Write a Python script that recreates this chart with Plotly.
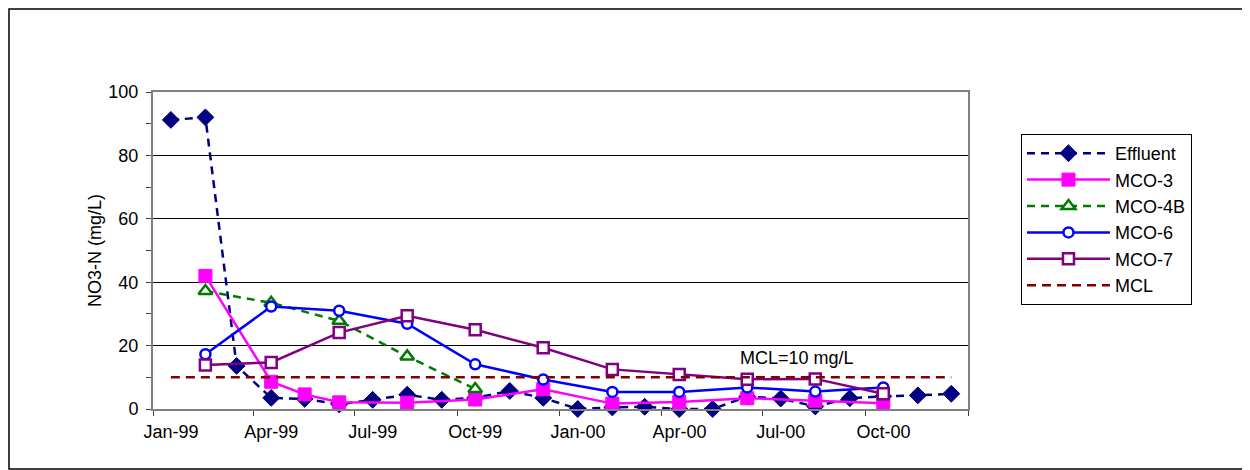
import plotly.graph_objects as go

# ---------------- data ----------------
effluent_dates = [
    "1999-01-17", "1999-02-17", "1999-03-17", "1999-04-17", "1999-05-17", "1999-06-17",
    "1999-07-17", "1999-08-17", "1999-09-17", "1999-10-17", "1999-11-17", "1999-12-17",
    "2000-01-17", "2000-02-17", "2000-03-17", "2000-04-17", "2000-05-17", "2000-06-17",
    "2000-07-17", "2000-08-17", "2000-09-17", "2000-10-17", "2000-11-17", "2000-12-17",
]
effluent = [91.2, 92.0, 13.6, 3.5, 3.2, 1.5, 2.9, 4.5, 2.9, 3.5, 5.7, 3.5,
            0.0, 0.5, 0.7, 0.0, 0.0, 3.9, 3.3, 0.8, 3.4, 4.0, 4.3, 4.8]

mco3_dates = ["1999-02-17", "1999-04-17", "1999-05-17", "1999-06-17", "1999-08-17",
              "1999-10-17", "1999-12-17", "2000-02-17", "2000-04-17", "2000-06-17",
              "2000-08-17", "2000-10-17"]
mco3 = [42.0, 8.6, 4.6, 2.1, 2.0, 3.0, 6.2, 1.7, 2.2, 3.4, 2.6, 1.8]

mco4b_dates = ["1999-02-17", "1999-04-17", "1999-06-17", "1999-08-17", "1999-10-17"]
mco4b = [37.2, 33.5, 27.8, 16.6, 6.3]

well_dates = ["1999-02-17", "1999-04-17", "1999-06-17", "1999-08-17", "1999-10-17",
              "1999-12-17", "2000-02-17", "2000-04-17", "2000-06-17", "2000-08-17",
              "2000-10-17"]
mco6 = [17.3, 32.3, 31.0, 26.9, 14.1, 9.3, 5.4, 5.4, 6.8, 5.5, 6.8]
mco7 = [13.9, 14.7, 24.1, 29.4, 25.0, 19.3, 12.5, 10.9, 9.4, 9.5, 4.8]

mcl_dates = ["1999-01-17", "2000-12-17"]
mcl = [10, 10]

tick_dates = ["1999-01-01", "1999-04-01", "1999-07-01", "1999-10-01", "2000-01-01",
              "2000-04-01", "2000-07-01", "2000-10-01", "2001-01-01"]
tick_labels = ["Jan-99", "Apr-99", "Jul-99", "Oct-99", "Jan-00", "Apr-00", "Jul-00", "Oct-00", ""]

FONT = "Liberation Sans, Arial, sans-serif"

fig = go.Figure()

fig.add_trace(go.Scatter(
    x=effluent_dates, y=effluent, name="Effluent", mode="lines+markers",
    line=dict(color="#000080", width=2.5, dash="8px,6px"),
    marker=dict(symbol="diamond", size=13, color="#000080", line=dict(color="#000080", width=1)),
    cliponaxis=False,
))
fig.add_trace(go.Scatter(
    x=mco3_dates, y=mco3, name="MCO-3", mode="lines+markers",
    line=dict(color="#FF00FF", width=2.5),
    marker=dict(symbol="square", size=13, color="#FF00FF", line=dict(color="#FF00FF", width=1)),
    cliponaxis=False,
))
fig.add_trace(go.Scatter(
    x=mco4b_dates, y=mco4b, name="MCO-4B", mode="lines+markers",
    line=dict(color="#007A00", width=2.5, dash="8px,6px"),
    marker=dict(symbol="triangle-up", size=12, color="white", line=dict(color="#007A00", width=2.5)),
    cliponaxis=False,
))
fig.add_trace(go.Scatter(
    x=well_dates, y=mco6, name="MCO-6", mode="lines+markers",
    line=dict(color="#0000FF", width=2.5),
    marker=dict(symbol="circle", size=10, color="white", line=dict(color="#0000FF", width=2.5)),
    cliponaxis=False,
))
fig.add_trace(go.Scatter(
    x=well_dates, y=mco7, name="MCO-7", mode="lines+markers",
    line=dict(color="#800080", width=2.5),
    marker=dict(symbol="square", size=11, color="white", line=dict(color="#800080", width=2.5)),
    cliponaxis=False,
))
fig.add_trace(go.Scatter(
    x=mcl_dates, y=mcl, name="MCL", mode="lines",
    line=dict(color="#800000", width=2.5, dash="9px,6px"),
))

fig.add_annotation(
    x="2000-08-01", y=16.2, xref="x", yref="y", text="MCL=10 mg/L", showarrow=False,
    font=dict(family=FONT, size=18, color="black"),
)

# outer chart-area frame
fig.add_shape(type="rect", xref="paper", yref="paper",
              x0=-0.1767, x1=1.3436, y0=-0.1893, y1=1.2618,
              line=dict(color="black", width=1.5), fillcolor="rgba(0,0,0,0)", layer="below")

fig.update_layout(
    width=1250, height=470,
    margin=dict(l=145, r=290, t=84, b=69),
    paper_bgcolor="white", plot_bgcolor="white",
    font=dict(family=FONT, size=18, color="black"),
    showlegend=True,
    legend=dict(
        x=1.065, y=0.8675, xanchor="left", yanchor="top",
        bordercolor="black", borderwidth=1, bgcolor="white",
        font=dict(family=FONT, size=18), itemwidth=83,
    ),
    xaxis=dict(
        type="date", range=["1999-01-01", "2001-01-01"],
        tickmode="array", tickvals=tick_dates, ticktext=tick_labels,
        ticks="outside", ticklen=5, tickcolor="#404040", tickwidth=1,
        ticklabelshift=18,
        showline=True, linecolor="#808080", linewidth=2, mirror=True,
        showgrid=False, zeroline=False,
        tickfont=dict(family=FONT, size=18),
    ),
    yaxis=dict(
        range=[0, 100], tick0=0, dtick=20,
        ticks="outside", ticklen=5, tickcolor="#404040", tickwidth=1,
        ticklabelstandoff=4,
        showline=True, linecolor="#808080", linewidth=2, mirror=True,
        showgrid=True, gridcolor="black", gridwidth=1, zeroline=False,
        minor=dict(dtick=10, ticks="outside", ticklen=5, tickcolor="#404040", showgrid=False),
        tickfont=dict(family=FONT, size=18),
        title=dict(text="NO3-N (mg/L)", font=dict(family=FONT, size=18), standoff=2),
    ),
)

fig.write_html("out.html")
